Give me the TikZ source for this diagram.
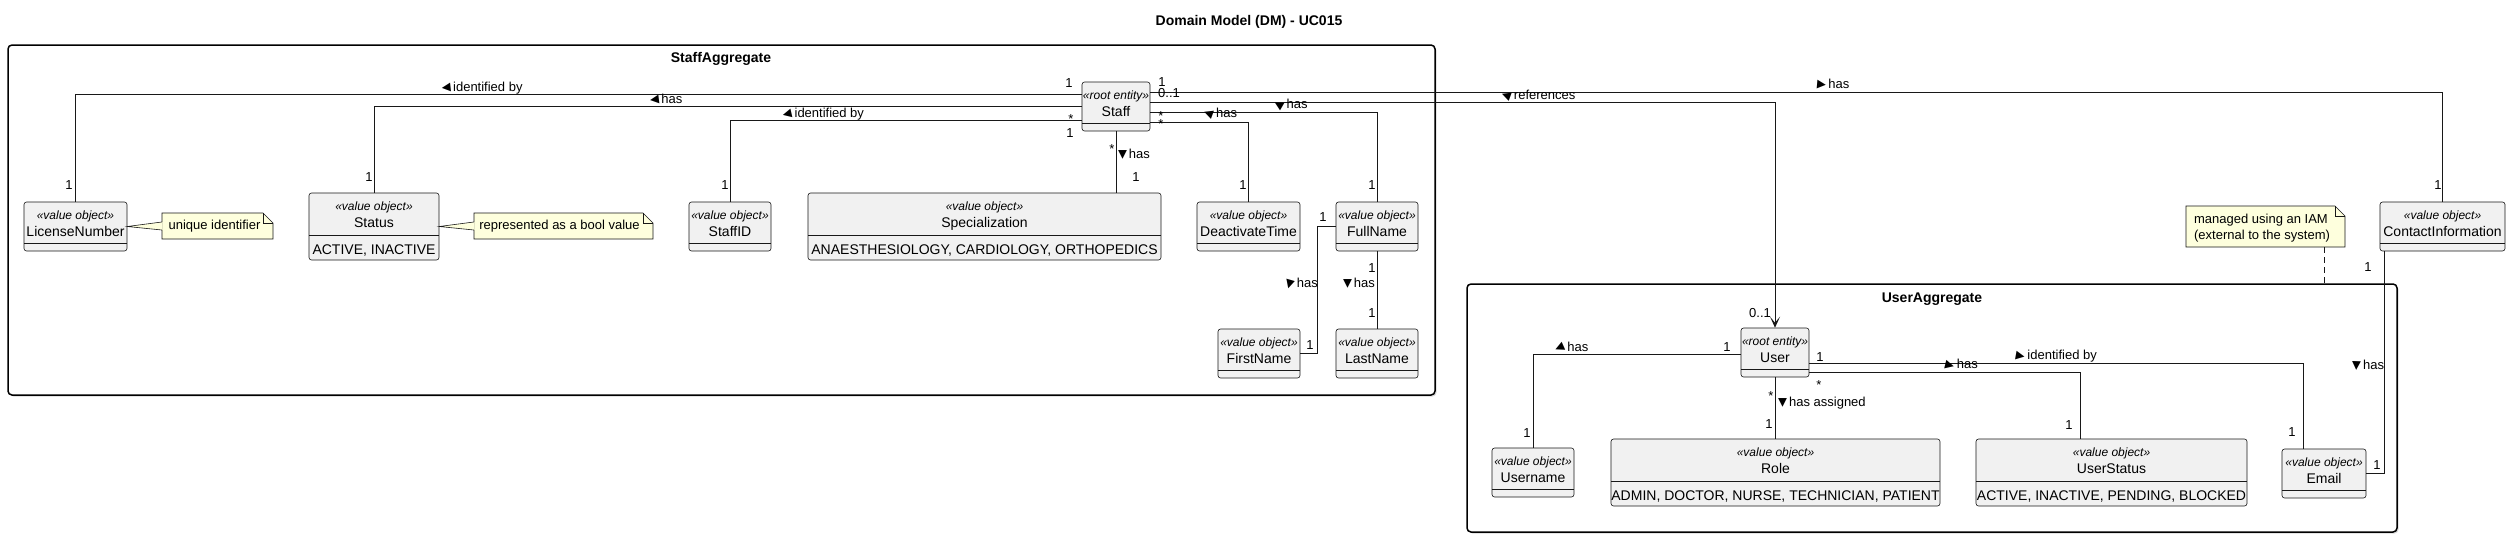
\documentclass[tikz,border=0pt]{standalone}
\usepackage{fontspec}
\usepackage{graphicx}
\setmainfont{Liberation Sans}
\newfontfamily\dejavu{DejaVu Sans}
\usetikzlibrary{fit,arrows.meta,shadows}
\definecolor{boxfill}{HTML}{F1F1F1}
\definecolor{boxline}{HTML}{181818}
\definecolor{notefill}{HTML}{FEFFDD}
\tikzset{
  classbox/.style={draw=boxline, fill=boxfill, line width=0.6pt, rounded corners=2.5pt, inner sep=0pt},
  divline/.style={draw=boxline, line width=0.6pt},
  stereotext/.style={font=\fontsize{12}{14}\selectfont\itshape, inner sep=0pt, text height=8.6pt, text depth=0pt},
  nametext/.style={font=\fontsize{14}{16}\selectfont, inner sep=0pt, text height=10pt, text depth=0pt},
  attrtext/.style={font=\fontsize{14}{16}\selectfont, inner sep=0pt, text height=10pt, text depth=0pt},
  lbl/.style={font=\fontsize{13}{15}\selectfont, inner sep=0pt, text height=9.3pt, text depth=0pt},
  conn/.style={draw=boxline, line width=1pt},
  aggframe/.style={draw=black, fill=white, line width=1.5pt, rounded corners=4pt, inner sep=0pt,
    drop shadow={shadow xshift=1.5pt, shadow yshift=-1.5pt, fill=black!30}},
  frametitle/.style={font=\fontsize{14}{16}\selectfont\bfseries, inner sep=0pt, text height=10pt, text depth=0pt},
  notetext/.style={font=\fontsize{13}{16}\selectfont, inner sep=0pt, align=left},
  notebody/.style={draw=boxline, fill=notefill, line width=0.6pt},
}
\newcommand\tri[1]{\raisebox{0.4pt}{\rotatebox[origin=c]{#1}{\dejavu\fontsize{11.5}{11.5}\selectfont ▶}}\hspace{2pt}}
\newcommand\vobox[7]{%
  \def\voattr{#7}%
  \ifx\voattr\empty
    \node[classbox, fit={(#2,#4) (#3,#4+49)}] (#1) {};
    \draw[divline] (#2,#4+41) -- (#3,#4+41);
  \else
    \node[classbox, fit={(#2,#4) (#3,#4+67)}] (#1) {};
    \draw[divline] (#2,#4+42) -- (#3,#4+42);
    \node[attrtext] (#1-a) at ({(#2+#3)/2},#4+56) {#7};
  \fi
  \node[stereotext] (#1-s) at ({(#2+#3)/2},#4+13) {«#5»};
  \node[nametext] (#1-n) at ({(#2+#3)/2},#4+29) {#6};
}
\newcommand\notebox[5]{%
  \path[notebody] (#2,#3) -- (#4-10,#3) -- (#4,#3+10) -- (#4,#5) -- (#2,#5) -- cycle;
  \draw[draw=boxline, line width=0.6pt] (#4-10,#3) -- (#4-10,#3+10) -- (#4,#3+10);
  \node[fit={(#2,#3) (#4,#5)}, inner sep=0pt] (#1) {};
}
\newcommand\notewedge[2]{%
  \fill[notefill] ([yshift=4pt,xshift=0.8pt]#2.west) -- (#1) -- ([yshift=-4pt,xshift=0.8pt]#2.west) -- cycle;
  \draw[draw=boxline, line width=0.6pt] ([yshift=4pt]#2.west) -- (#1) -- ([yshift=-4pt]#2.west);
}
\begin{document}
\begin{tikzpicture}[x=1pt,y=-1pt]
\useasboundingbox (0,0) rectangle (2511,536);
\fill[white] (0,0) rectangle (2511,536);

\node[frametitle] (title) at (1249,20) {Domain Model (DM) - UC015};

% aggregates
\node[aggframe, fit={(8,45) (1435,395)}] (staffagg) {};
\node[frametitle] (staffaggt) at (721,57) {StaffAggregate};
\node[aggframe, fit={(1467,284) (2397,532)}] (useragg) {};
\node[frametitle] (useraggt) at (1932,297) {UserAggregate};

% classes
\vobox{Staff}{1082}{1150}{82}{root entity}{Staff}{}
\vobox{LicenseNumber}{24}{127}{202}{value object}{LicenseNumber}{}
\vobox{Status}{309}{439}{193}{value object}{Status}{ACTIVE, INACTIVE}
\vobox{StaffID}{689}{771}{202}{value object}{StaffID}{}
\vobox{Specialization}{808}{1161}{193}{value object}{Specialization}{ANAESTHESIOLOGY, CARDIOLOGY, ORTHOPEDICS}
\vobox{DeactivateTime}{1197}{1300}{202}{value object}{DeactivateTime}{}
\vobox{FullName}{1336}{1418}{202}{value object}{FullName}{}
\vobox{FirstName}{1218}{1300}{329}{value object}{FirstName}{}
\vobox{LastName}{1336}{1418}{329}{value object}{LastName}{}
\vobox{ContactInformation}{2380}{2505}{202}{value object}{ContactInformation}{}
\vobox{User}{1741}{1809}{328}{root entity}{User}{}
\vobox{Username}{1492}{1574}{448}{value object}{Username}{}
\vobox{Role}{1611}{1940}{439}{value object}{Role}{ADMIN, DOCTOR, NURSE, TECHNICIAN, PATIENT}
\vobox{UserStatus}{1976}{2247}{439}{value object}{UserStatus}{ACTIVE, INACTIVE, PENDING, BLOCKED}
\vobox{Email}{2282}{2366}{449}{value object}{Email}{}

% notes
\notebox{lnnote}{162}{213}{273}{239}
\node[notetext] (lnnote-t) at (214.5,226) {unique identifier};
\notewedge{LicenseNumber.east}{lnnote}
\notebox{stnote}{474}{213}{653}{239}
\node[notetext] (stnote-t) at (559.5,226) {represented as a bool value};
\notewedge{Status.east}{stnote}
\notebox{iamnote}{2186}{206}{2345}{247}
\node[notetext] (iamnote-t) at (2262,228) {managed using an IAM\\(external to the system)};

% connectors
\draw[conn] ([yshift=12.5pt]Staff.west) -| (LicenseNumber.north);
\draw[conn] (Staff.west) -| (Status.north);
\draw[conn] ([yshift=-13.5pt]Staff.west) -| (StaffID.north);
\draw[conn] (Staff.south) -- (Staff.south |- Specialization.north);
\draw[conn] ([yshift=-15.5pt]Staff.east) -| (DeactivateTime.north);
\draw[conn] ([yshift=-5.5pt]Staff.east) -| (FullName.north);
\draw[conn, -{Stealth[length=11pt, width=10pt, inset=6pt]}] ([yshift=4.5pt]Staff.east) -| (User.north);
\draw[conn] ([yshift=14.5pt]Staff.east) -| (ContactInformation.north);
\draw[conn] (FullName.west) -- ++(-18,0) |- (FirstName.east);
\draw[conn] (FullName.south) -- (LastName.north);
\draw[conn] ([xshift=-58.5pt]ContactInformation.south) |- (Email.east);
\draw[conn] ([yshift=-1.5pt]User.west) -| (Username.north);
\draw[conn] (User.south) -- (User.south |- Role.north);
\draw[conn] ([yshift=-10.5pt]User.east) -| ([xshift=-21pt]Email.north);
\draw[conn] ([yshift=-19.5pt]User.east) -| ([xshift=-31.5pt]UserStatus.north);
\coordinate (iamc) at ([xshift=58.5pt]iamnote.south);
\draw[conn, dash pattern=on 6pt off 4pt] (iamc) -- (iamc |- useragg.north);

% association labels
\node[lbl] (l1) at (482,87) {\tri{186}identified by};
\node[lbl] (l2) at (666,99) {\tri{187}has};
\node[lbl] (l3) at (823,113) {\tri{193}identified by};
\node[lbl] (l4) at (1134,154) {\tri{-90}has};
\node[lbl] (l5) at (1220,113) {\tri{160}has};
\node[lbl] (l6) at (1290,104) {\tri{150}has};
\node[lbl] (l7) at (1538,95) {\tri{160}references};
\node[lbl] (l8) at (1833,84) {\tri{-5}has};
\node[lbl] (l9) at (1301,283) {\tri{254}has};
\node[lbl] (l10) at (1359,283) {\tri{-90}has};
\node[lbl] (l11) at (2368,365) {\tri{-92}has};
\node[lbl] (l12) at (1571,347) {\tri{204}has};
\node[lbl] (l13) at (1822,402) {\tri{-90}has assigned};
\node[lbl] (l14) at (1961,364) {\tri{-14}has};
\node[lbl] (l15) at (2056,355) {\tri{-10}identified by};

% multiplicities
\node[lbl] (m1) at (69,185) {1};
\node[lbl] (m2) at (369,177) {1};
\node[lbl] (m3) at (725,185) {1};
\node[lbl] (m4) at (1069,83) {1};
\node[lbl] (m5) at (1071,118.5) {*};
\node[lbl] (m6) at (1070,133) {1};
\node[lbl] (m7) at (1112,148.5) {*};
\node[lbl] (m8) at (1136,177) {1};
\node[lbl] (m9) at (1162,82) {1};
\node[lbl] (m10) at (1169,93) {0..1};
\node[lbl] (m11) at (1161,115.5) {*};
\node[lbl] (m12) at (1161,123.5) {*};
\node[lbl] (m13) at (1243,185) {1};
\node[lbl] (m14) at (1372,185) {1};
\node[lbl] (m15) at (1323,217) {1};
\node[lbl] (m16) at (1310,345) {1};
\node[lbl] (m17) at (1372,268) {1};
\node[lbl] (m18) at (1372,313) {1};
\node[lbl] (m19) at (2438,185) {1};
\node[lbl] (m20) at (2368,267) {1};
\node[lbl] (m21) at (2377,465) {1};
\node[lbl] (m22) at (1760,313) {0..1};
\node[lbl] (m23) at (1727,347) {1};
\node[lbl] (m24) at (1527,433) {1};
\node[lbl] (m25) at (1771,395.5) {*};
\node[lbl] (m26) at (1769,424) {1};
\node[lbl] (m27) at (1820,357) {1};
\node[lbl] (m28) at (1819,384.5) {*};
\node[lbl] (m29) at (2069,425) {1};
\node[lbl] (m30) at (2292,432) {1};
\end{tikzpicture}
\end{document}
